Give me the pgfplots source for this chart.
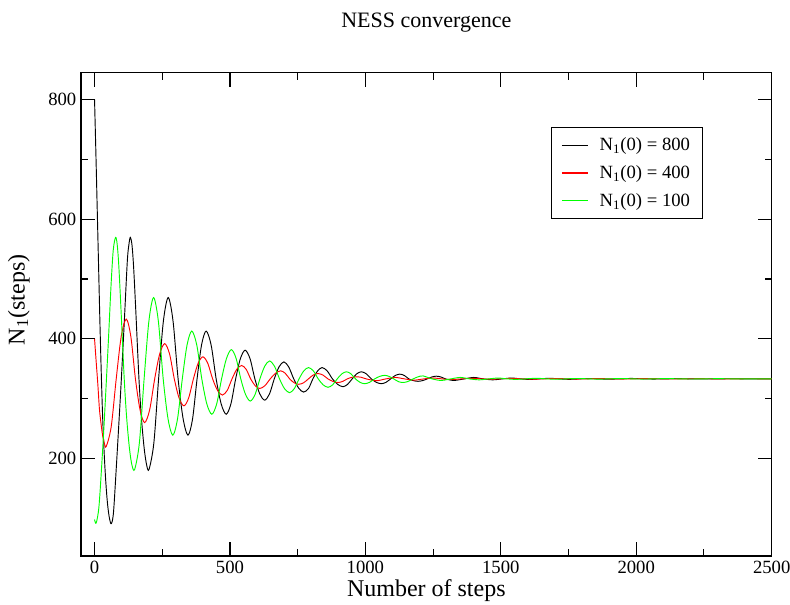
\documentclass[border=0pt]{standalone}
\usepackage{fontspec}
\setmainfont{Liberation Serif}
\usepackage{pgfplots}
\pgfplotsset{compat=1.18}
\definecolor{grgreen}{RGB}{0,255,0}
\definecolor{grred}{RGB}{255,0,0}
\begin{document}
\begin{tikzpicture}
\path[use as bounding box] (0pt,0pt) rectangle (592.5pt,453.75pt);
\begin{axis}[
  at={(60.75pt,36.75pt)}, anchor=south west,
  scale only axis, width=518pt, height=362.5pt,
  xmin=-50, xmax=2500, ymin=37, ymax=845,
  xtick={0,500,...,2500}, ytick={200,400,600,800},
  minor x tick num=1, minor y tick num=1,
  tick align=inside, tick pos=both,
  major tick length=10.5pt, minor tick length=5.25pt,
  axis line style={line width=1pt},
  every tick/.style={black, line width=0.8pt},
  /pgf/number format/1000 sep={},
  /pgf/number format/assume math mode=true,
  ticklabel style={font=\fontsize{14}{14}\selectfont},
  xlabel={Number of steps}, ylabel={N\textsubscript{1}(steps)},
  xlabel style={font=\fontsize{18}{18}\selectfont, at={(axis description cs:0.5,-0.0835)}, anchor=base},
  ylabel style={font=\fontsize{18}{18}\selectfont, at={(axis description cs:-0.09,0.53)}, anchor=center, rotate=0},
  title={NESS convergence},
  title style={font=\fontsize{16.5}{16.5}\selectfont, at={(axis description cs:0.5,1.076)}, anchor=base},
  legend style={at={(0.681,0.888)}, anchor=north west, draw=black, line width=0.8pt,
    font=\fontsize{14}{14}\selectfont, inner xsep=7pt, inner ysep=6pt, row sep=5.5pt},
  legend cell align=left,
  legend image code/.code={\draw[#1, line width=0.9pt] (0pt,0pt) -- (20pt,0pt);},
  every axis plot/.append style={line width=0.7pt},
]
\addplot[black, smooth] coordinates {
(0,800) (5,710) (10,615) (15,520) (20,425) (25,340) (30,268) (36,205) (42,158) (48,124) (55,100) (62,91)
(70,110) (81,190) (90,260) (99,333) (110,430) (121,530) (127,558) (132,569.6)
(138,558) (144,522) (152,450) (164,333) (173,268) (183,218) (192,190) (201,181.6)
(219,226) (236.5,333) (254,429) (272,469) (290,429) (308.5,333) (327,266.5) (345,239)
(362,266.5) (378.5,333) (395,389.6) (412,413) (430.5,389.6) (449,333) (467.5,291.3) (486,274)
(503.5,291.3) (521,333) (538.5,367) (556,381) (574,367) (592,333) (610,308) (628,297.5)
(646,308) (663.5,333) (681,353) (699,361.5) (717,353) (735.5,333) (754,317.4) (772,311)
(790,317) (806,333) (823,346) (840,352) (859,346.4) (878.5,333) (898,323.8) (917,320)
(934,323.8) (951,333) (968,341.5) (985,345) (1003.5,341.5) (1022,333) (1040.5,327.3) (1059,325)
(1076,327.3) (1093,333) (1110,338.7) (1127,341) (1144,338.7) (1160.5,333) (1177,330.2) (1194,329)
(1211,330.2) (1228,333) (1245,336.2) (1262,337.6) (1279,336.2) (1296,333) (1313,331.2) (1330,330.5)
(1365,333) (1400,335.5) (1435,333) (1470,331.5) (1505,333) (1540,334.5) (1575,333) (1610,332.2)
(1680,334) (1750,332.3) (1820,333.6) (1900,332.6) (1980,333.8) (2060,332.8) (2150,333.4)
(2250,332.9) (2350,333.3) (2450,333) (2500,333.2)
};
\addlegendentry{\hspace{6pt}N\textsubscript{1}(0) = 800}
\addplot[grred, smooth] coordinates {
(0,400) (6,362) (12,325) (18,283) (24,258) (30,238) (36,226) (43,220)
(61.5,253) (80,333) (98.5,404) (117,433) (134,404) (151,333) (168,281.4) (185,260)
(203.5,281.4) (222,333) (240.5,374.7) (259,392) (277,374.7) (294.5,333) (312,301.2) (330,288)
(347.5,301.2) (365,333) (382.5,359.2) (400,370) (418,359.2) (436,333) (454,313.9) (472,306)
(490,313.9) (507.5,333) (525,348.9) (543,355.5) (560,348.9) (576.5,333) (593,321.7) (610,317)
(629,321.7) (648.5,333) (668,342.5) (687,346.5) (704,342.5) (720.5,333) (737,326.6) (754,324)
(772,326.6) (789.5,333) (807,339.4) (825,342) (843.5,339.4) (862,333) (880.5,328.8) (899,327)
(916,328.8) (933,333) (950,335.7) (967,336.5) (985,335.7) (1003.5,333) (1040,330) (1075,333)
(1110,335.5) (1145,333) (1180,331) (1215,333) (1250,334.5) (1285,333) (1320,332)
(1390,334) (1460,332.5) (1530,333.8) (1620,332.7) (1700,333.6) (1780,332.8) (1860,333.5)
(1950,332.8) (2040,333.6) (2130,332.9) (2230,333.4) (2330,333) (2420,333.3) (2500,333)
};
\addlegendentry{\hspace{6pt}N\textsubscript{1}(0) = 400}
\addplot[grgreen, smooth] coordinates {
(0,98) (6,92) (16,118) (26,185) (35,255) (44,333) (52,405) (61,490) (69,548) (77.6,569.6)
(83.6,558) (89.6,522) (97.6,450) (109.6,333) (118.6,268) (128.6,218) (137.6,190) (148,181.6)
(165.5,226) (183,333) (200.5,429) (218,469) (235.75,429) (253.5,333) (271.25,266.5) (289,239)
(306.5,266.5) (324,333) (341.5,389.6) (359,413) (377.5,389.6) (396,333) (414.5,291.3) (433,274)
(451,291.3) (469,333) (487,367) (505,382) (522.5,367.6) (540,333) (557.5,307) (575,296)
(592.75,307) (610.5,333) (628.25,354.2) (646,363) (664.5,354.2) (683,333) (701.5,316.7) (720,310)
(737.5,316.7) (755,333) (772.5,346.4) (790,352) (808,346.4) (826,333) (844,323.1) (862,319)
(879,323.1) (896,333) (913,341.5) (930,345) (946.75,341.5) (963.5,333) (980.25,327.3) (997,325)
(1015.5,327.3) (1034,333) (1052.5,337.2) (1071,339) (1088,337.2) (1105,333) (1122,328.5) (1139,327)
(1157.5,328.8) (1176,333) (1194.5,336.5) (1213,338) (1246.5,333) (1280,330.5)
(1315,333) (1350,335.5) (1385,333) (1420,331.5) (1455,333) (1490,334.5) (1525,333) (1560,332.3)
(1630,334) (1700,332.5) (1780,333.7) (1860,332.7) (1940,333.6) (2020,332.8) (2110,333.5)
(2200,332.9) (2300,333.4) (2400,333) (2500,333.2)
};
\addlegendentry{\hspace{6pt}N\textsubscript{1}(0) = 100}
\end{axis}
\end{tikzpicture}
\end{document}
